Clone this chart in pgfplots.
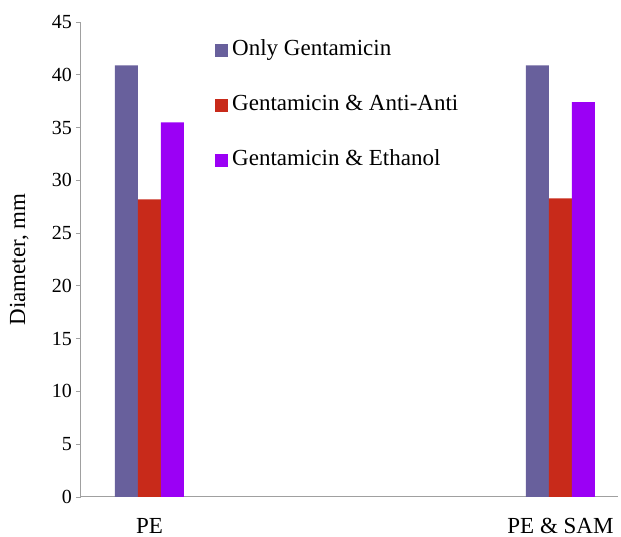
\documentclass[border=0pt]{standalone}
\usepackage{pgfplots}
\pgfplotsset{compat=1.18}
\usepackage{fontspec}
\setmainfont{Liberation Serif}
\definecolor{cA}{RGB}{104,96,156}
\definecolor{cB}{RGB}{200,42,26}
\definecolor{cC}{RGB}{155,0,245}
\definecolor{axgray}{RGB}{160,160,160}
\begin{document}
\begin{tikzpicture}
\begin{axis}[
  scale only axis, width=537pt, height=475pt,
  clip=false,
  ybar=0pt, bar width=23pt,
  xmin=-0.1667, xmax=1.14,
  ymin=0, ymax=45,
  ytick={0,5,...,45},
  xtick={0,1}, xticklabels={PE, PE \& SAM},
  axis x line=bottom, axis y line=left,
  axis line style={draw=axgray, line width=1pt, -},
  x axis line style={-}, y axis line style={-},
  xtick style={draw=none},
  ytick style={draw=axgray, line width=0.8pt},
  tick align=outside, major tick length=5pt,
  /pgf/number format/assume math mode=true,
  yticklabel style={font=\fontsize{20}{24}\selectfont, inner sep=0pt, xshift=-4pt},
  xticklabel style={font=\fontsize{23}{27}\selectfont, inner sep=0pt, anchor=north, yshift=-16pt},
  ylabel={Diameter, mm},
  ylabel style={font=\fontsize{23}{27}\selectfont, at={(axis description cs:-0.115,0.5)}, anchor=center},
  legend style={draw=none, fill=none, at={(axis description cs:0.244,0.967)}, anchor=north west,
    font=\fontsize{23}{27}\selectfont, row sep=34pt,
    nodes={inner sep=0pt, text height=16pt, text depth=5pt},
    /tikz/every odd column/.append style={column sep=4pt}},
  legend cell align=left,
  legend image code/.code={\fill[#1,draw=none] (0pt,-6.5pt) rectangle (13pt,6.5pt);},
]
\addplot[fill=cA, draw=none] coordinates {(0,40.9) (1,40.9)};
\addplot[fill=cB, draw=none] coordinates {(0,28.2) (1,28.3)};
\addplot[fill=cC, draw=none] coordinates {(0,35.5) (1,37.4)};
\legend{Only Gentamicin, Gentamicin \& Anti-Anti, Gentamicin \& Ethanol}
\path (rel axis cs:-0.1508,-0.0842) (rel axis cs:1.0056,1.0463);
\end{axis}
\end{tikzpicture}
\end{document}
